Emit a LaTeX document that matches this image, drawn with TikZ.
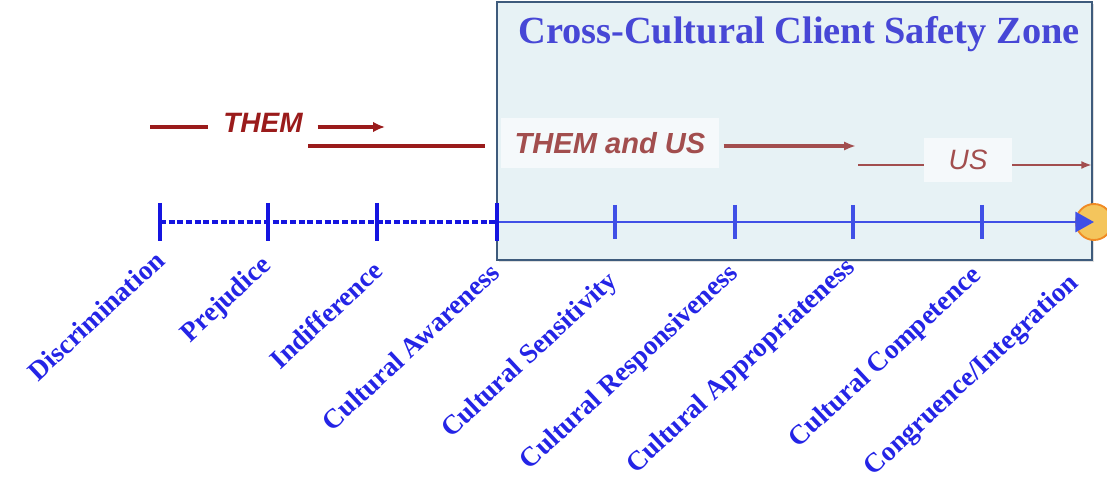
\documentclass[tikz,border=0pt]{standalone}
\usepackage{fontspec}
\setmainfont{Liberation Serif}
\newfontfamily\arialfont{Liberation Sans}
\usetikzlibrary{arrows.meta,shadows}
\definecolor{zonefill}{HTML}{E7F2F5}
\definecolor{zoneedge}{HTML}{3E5B7C}
\definecolor{zonetext}{HTML}{4747D6}
\definecolor{axisblue}{HTML}{4050E6}
\definecolor{darkblue}{HTML}{1515E0}
\definecolor{themred}{HTML}{9A1B1B}
\definecolor{usred}{HTML}{A24E4E}
\definecolor{stageblue}{HTML}{2424E6}
\definecolor{goalfill}{HTML}{F4C55C}
\definecolor{goaledge}{HTML}{F08A24}
\tikzset{
  zonebox/.style={draw=zoneedge, fill=zonefill, line width=1.8pt,
    drop shadow={opacity=0.25, shadow xshift=1.5pt, shadow yshift=-1.5pt}},
  zonetitle/.style={font=\bfseries\fontsize{28.8}{31}\selectfont, text=zonetext},
  stage/.style={font=\bfseries\fontsize{20.5}{22}\selectfont, text=stageblue,
    rotate=43, anchor=east, inner sep=0pt},
  tickmark/.style={line width=2.6pt},
  themlabel/.style={font=\arialfont\bfseries\itshape\fontsize{21}{24}\selectfont,
    text=themred, inner sep=0pt},
  themline/.style={themred, line width=3pt},
  usbox/.style={font=\arialfont\itshape\fontsize{21}{24}\selectfont, text=usred,
    fill=white, fill opacity=0.6, text opacity=1, inner sep=0pt,
    minimum height=38pt},
  usline/.style={usred, line width=2pt},
}
\begin{document}
\begin{tikzpicture}[x=0.75pt,y=-0.75pt]
\useasboundingbox (0,0) rectangle (1107,488);

% Safety zone
\draw[zonebox] (497,2) rectangle (1092,260);
\node[zonetitle] (title) at (799,34) {Cross-Cultural Client Safety Zone};

% Axis with ticks
\foreach \n/\x in {1/160,2/268,3/377,4/497,5/615,6/735,7/853,8/982}
  \coordinate (t\n) at (\x,222);
\node[circle, fill=goalfill, draw=goaledge, line width=1.4pt,
  minimum size=27pt, inner sep=0pt] (goal) at (1094,222) {};
\draw[darkblue, line width=2.4pt, dash pattern=on 4.5pt off 2pt] (t1) -- (t4);
\draw[axisblue, line width=2.2pt, -{Triangle[length=14pt,width=15pt]}]
  (t4) -- (goal.center);
\foreach \n in {1,...,4}
  \draw[tickmark, darkblue] (t\n) ++(0,-19) -- ++(0,38);
\foreach \n in {5,...,8}
  \draw[tickmark, axisblue] (t\n) ++(0,-17) -- ++(0,34);

% Stages
\foreach \x/\y/\txt [count=\i] in {160/256/Discrimination, 268/262/Prejudice,
    378/266/Indifference, 495/268/Cultural Awareness,
    614/278/Cultural Sensitivity, 735/270/Cultural Responsiveness,
    852/264/Cultural Appropriateness, 978/272/Cultural Competence,
    1075/280/{Congruence/Integration}}
  \node[stage] (s\i) at (\x,\y) {\txt};

% THEM
\coordinate (a0) at (150,127);
\coordinate (a1) at (385,127);
\node[themlabel] (them) at (263,123) {THEM};
\draw[themline] (a0) -- ([xshift=-11pt]a0 -| them.west);
\draw[themline, -{Latex[length=9pt,width=8pt]}] ([xshift=11pt]a1 -| them.east) -- (a1);
\coordinate (b0) at (308,146);
\coordinate (b1) at (485,146);
\draw[themline] (b0) -- (b1);

% THEM and US
\node[usbox, font=\arialfont\bfseries\itshape\fontsize{21.8}{24}\selectfont,
  minimum width=164pt] (themus) at (610,143) {THEM and US};
\coordinate (c1) at (856,146);
\draw[usline, line width=2.6pt, -{Latex[length=9pt,width=7pt]}]
  ([xshift=3pt]c1 -| themus.east) -- (c1);

% US
\node[usbox, minimum width=66pt, minimum height=33pt] (us) at (968,160) {US};
\coordinate (d0) at (858,165);
\coordinate (d1) at (1092,165);
\draw[usline] (d0) -- (d0 -| us.west);
\draw[usline, -{Latex[length=8pt,width=6pt]}] (d1 -| us.east) -- (d1);
\end{tikzpicture}
\end{document}
